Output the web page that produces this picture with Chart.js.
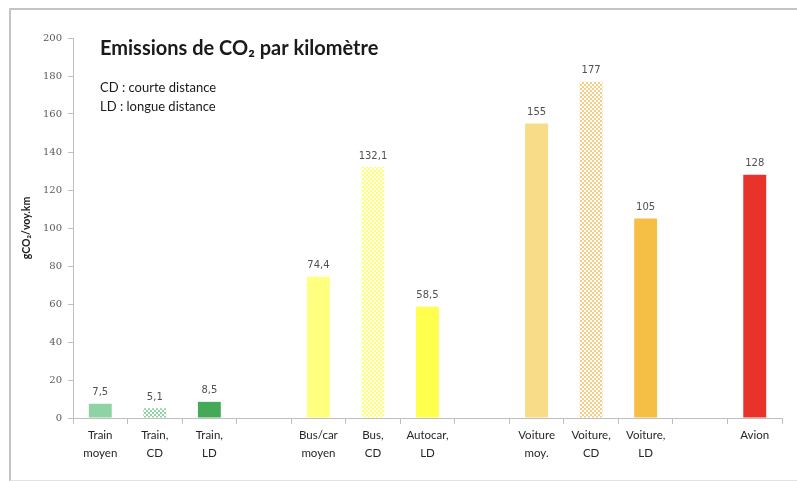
<!DOCTYPE html>
<html>
<head>
<meta charset="utf-8">
<script src="https://cdn.jsdelivr.net/npm/chart.js@4"></script>
<style>
  html, body { margin: 0; padding: 0; background: #fff; overflow: hidden; }
  #wrap { position: relative; width: 797px; height: 481px; }
  #frame { position: absolute; left: 9px; top: 8px; width: 800px; height: 470px;
           border-top: 2px solid #c4c4c4; border-left: 2px solid #c4c4c4; border-bottom: 1px solid #e2e2e2; }
  canvas { position: absolute; left: 0; top: 0; }
</style>
</head>
<body>
<div id="wrap">
  <div id="frame"></div>
  <canvas id="chart" width="797" height="481"></canvas>
</div>
<script>
// Données
const categories = [
  ['Train', 'moyen'], ['Train,', 'CD'], ['Train,', 'LD'], '',
  ['Bus/car', 'moyen'], ['Bus,', 'CD'], ['Autocar,', 'LD'], '',
  ['Voiture', 'moy.'], ['Voiture,', 'CD'], ['Voiture,', 'LD'], '',
  'Avion'
];
const emissions = [7.5, 5.1, 8.5, null, 74.4, 132.1, 58.5, null, 155, 177, 105, null, 128];
const valueLabels = ['7,5', '5,1', '8,5', '', '74,4', '132,1', '58,5', '', '155', '177', '105', '', '128'];
const yTicks = [0, 20, 40, 60, 80, 100, 120, 140, 160, 180, 200];

// motif "damier" pour les trajets courte distance
function checker(color) {
  const c = document.createElement('canvas');
  c.width = 4; c.height = 4;
  const g = c.getContext('2d');
  g.fillStyle = '#ffffff';
  g.fillRect(0, 0, 4, 4);
  g.fillStyle = color;
  g.fillRect(0, 0, 2, 2);
  g.fillRect(2, 2, 2, 2);
  return g.createPattern(c, 'repeat');
}

const ctx = document.getElementById('chart').getContext('2d');
const colors = [
  '#8fd3a4', checker('#8fd3a0'), '#45a957', 'rgba(0,0,0,0)',
  '#ffff80', checker('#ffff70'), '#ffff4d', 'rgba(0,0,0,0)',
  '#f9dc88', checker('#f5cd85'), '#f5bf45', 'rgba(0,0,0,0)',
  '#e8332a'
];

// titre et légende dans la zone du graphique
const titlePlugin = {
  id: 'titre',
  afterDraw(chart) {
    const c = chart.ctx;
    c.save();
    c.fillStyle = '#1a1a1a';
    c.textBaseline = 'alphabetic';
    c.font = 'bold 20px Lato, "Open Sans", sans-serif';
    c.fillText('Emissions de CO₂ par kilomètre', 100, 55);
    c.font = '13px Lato, "Open Sans", sans-serif';
    c.fillText('CD : courte distance', 100, 92);
    c.fillText('LD : longue distance', 100, 111);
    c.restore();
  }
};

// étiquettes de valeur au-dessus des barres
const labelPlugin = {
  id: 'valeurs',
  afterDatasetsDraw(chart) {
    const c = chart.ctx;
    const meta = chart.getDatasetMeta(0);
    c.save();
    c.font = '10px "DejaVu Sans", sans-serif';
    c.fillStyle = '#505050';
    c.textAlign = 'center';
    c.textBaseline = 'bottom';
    meta.data.forEach((bar, i) => {
      if (emissions[i] == null) return;
      c.fillText(valueLabels[i], bar.x, bar.y - 6);
    });
    c.restore();
  }
};

new Chart(ctx, {
  type: 'bar',
  data: {
    labels: categories,
    datasets: [{
      data: emissions,
      backgroundColor: colors,
      borderWidth: 0,
      barPercentage: 0.42,
      categoryPercentage: 1,
    }],
  },
  options: {
    responsive: false,
    animation: false,
    layout: { padding: { left: 10, right: 15, top: 38, bottom: 0 } },
    plugins: {
      legend: { display: false },
      tooltip: { enabled: false },
    },
    scales: {
      x: {
        grid: { drawOnChartArea: false, offset: true, tickLength: 6, color: '#bfbfbf' },
        border: { color: '#bfbfbf' },
        ticks: {
          color: '#262626',
          font: { size: 11.5, family: 'Lato, "Open Sans", sans-serif', lineHeight: 1.6 },
          maxRotation: 0, autoSkip: false, padding: 2,
        },
        afterFit(scale) { scale.height = 63; },
      },
      y: {
        min: 0, max: 200,
        afterBuildTicks(scale) { scale.ticks = yTicks.map(v => ({ value: v })); },
        grid: { drawOnChartArea: false, tickLength: 5, color: '#bfbfbf' },
        border: { color: '#bfbfbf' },
        ticks: {
          color: '#595959',
          font: { size: 10, family: '"DejaVu Serif", serif' },
          padding: 6,
        },
        title: {
          display: true,
          text: 'gCO₂/voy.km',
          color: '#1a1a1a',
          font: { size: 10.5, weight: 'bold', family: 'Lato, "Open Sans", sans-serif' },
          padding: { top: 10, bottom: 0 },
        },
        afterFit(scale) { scale.width = 63; },
      },
    },
  },
  plugins: [titlePlugin, labelPlugin],
});
</script>
</body>
</html>
